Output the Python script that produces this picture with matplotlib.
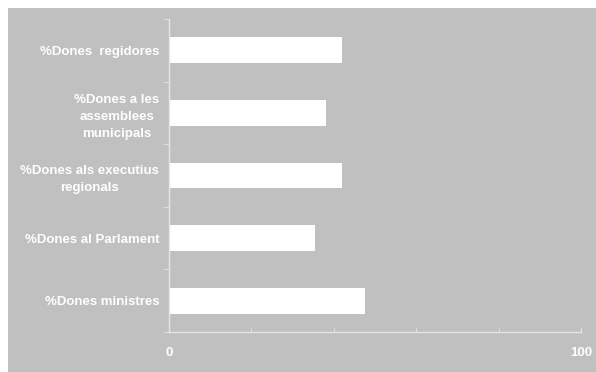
import matplotlib.pyplot as plt
from matplotlib.patches import Rectangle
from matplotlib.ticker import MultipleLocator

labels = ["%Dones  regidores", "%Dones a les\nassemblees\nmunicipals",
          "%Dones als executius\nregionals", "%Dones al Parlament", "%Dones ministres"]
values = [42.0, 38.1, 41.9, 35.4, 47.6]

grey = "#c0c0c0"
light = "#e6e6e6"

fig = plt.figure(figsize=(5.96, 3.72), dpi=100, facecolor="white")
fig.patches.append(Rectangle((8 / 596, 0), 1, 1 - 8 / 372, transform=fig.transFigure,
                             facecolor=grey, edgecolor="none", zorder=-10))
ax = fig.add_axes([169 / 596, 40 / 372, 412 / 596, 313 / 372])
ax.set_facecolor(grey)

pos = list(range(len(labels)))[::-1]
ax.barh(pos, values, height=0.41, color="white", edgecolor="none")

ax.set_xlim(0, 100)
ax.set_ylim(-0.5, len(labels) - 0.5)
ax.set_xticks([0, 100])
ax.xaxis.set_minor_locator(MultipleLocator(20))
ax.set_yticks(pos)
ax.set_yticklabels(labels)
ax.set_yticks([p - 0.5 for p in range(len(labels) + 1)], minor=True)

for s in ["top", "right"]:
    ax.spines[s].set_visible(False)
for s in ["left", "bottom"]:
    ax.spines[s].set_color(light)
    ax.spines[s].set_linewidth(1)

ax.tick_params(axis="y", which="major", length=0, pad=7)
ax.tick_params(axis="y", which="minor", length=4, direction="out", color=light)
ax.tick_params(axis="x", which="both", length=3, direction="in", color=light, pad=11)

for t in ax.get_yticklabels() + ax.get_xticklabels():
    t.set_fontfamily("Liberation Sans")
    t.set_fontweight("bold")
    t.set_fontsize(9.5)
    t.set_color("white")
for t in ax.get_yticklabels():
    t.set_multialignment("center")
    t.set_linespacing(1.55)

fig.savefig("out.png", dpi=100, facecolor="white")
